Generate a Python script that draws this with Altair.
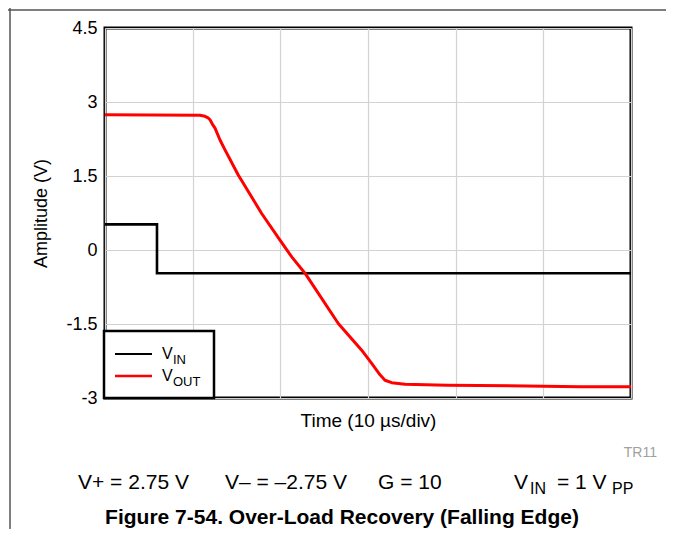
import altair as alt
import pandas as pd

# ---- data ----
vin_t = [0, 5.93, 5.93, 60]
vin_v = [0.52, 0.52, -0.47, -0.47]

vout_t = [0, 10.84, 11.41, 11.75, 11.98, 12.32, 12.55, 13.12, 13.69, 15.2, 17.87, 19.96,
          21.3, 22.81, 26.61, 29.28, 30.42, 31.37, 31.94, 32.7, 34.22, 39.0, 54.2, 60]
vout_v = [2.74, 2.73, 2.71, 2.68, 2.64, 2.53, 2.47, 2.23, 2.03, 1.52, 0.74, 0.20,
          -0.14, -0.47, -1.49, -2.03, -2.30, -2.53, -2.64, -2.69, -2.72, -2.74, -2.77, -2.77]

y_ticks = [-3, -1.5, 0, 1.5, 3, 4.5]
x_ticks = [0, 10, 20, 30, 40, 50, 60]
series_names = ["VIN", "VOUT"]
series_colors = ["black", "red"]

W, H = 526, 370
FONT = "Liberation Sans"

df = pd.DataFrame({
    "t": vin_t + vout_t,
    "v": vin_v + vout_v,
    "s": ["VIN"] * len(vin_t) + ["VOUT"] * len(vout_t),
    "o": list(range(len(vin_t))) + list(range(len(vout_t))),
})

x_enc = alt.X("t:Q", scale=alt.Scale(domain=[0, 60], nice=False),
              axis=alt.Axis(values=x_ticks, labels=False, ticks=False, domain=False,
                            title="Time (10 µs/div)", titleFontSize=19, titleFontWeight="normal",
                            titlePadding=13, titleFont=FONT, titleColor="black",
                            gridColor="#d2d2d2", gridWidth=1.2))
y_enc = alt.Y("v:Q", scale=alt.Scale(domain=[-3, 4.5], nice=False, zero=False),
              axis=alt.Axis(values=y_ticks, labelExpr="'' + datum.value", ticks=False,
                            domain=False, labelFontSize=18, labelFont=FONT, labelColor="black",
                            labelPadding=8, title="Amplitude (V)", titleFontSize=18,
                            titleFontWeight="normal", titleFont=FONT, titleColor="black",
                            titlePadding=15, gridColor="#d2d2d2", gridWidth=1.2))

base = alt.Chart(df)
color = alt.Color("s:N", scale=alt.Scale(domain=series_names, range=series_colors), legend=None)

line_in = base.transform_filter(alt.datum.s == "VIN").mark_line(strokeWidth=2.6).encode(
    x=x_enc, y=y_enc, order="o:Q", color=color)
line_out = base.transform_filter(alt.datum.s == "VOUT").mark_line(
    strokeWidth=3, strokeJoin="round").encode(x=x_enc, y=y_enc, order="o:Q", color=color)

one = pd.DataFrame({"a": [0]})
def deco():
    return alt.Chart(one)

# legend box
leg_box = deco().mark_rect(fill="white", stroke="black", strokeWidth=2.5).encode(
    x=alt.value(-1), x2=alt.value(109), y=alt.value(303), y2=alt.value(370))
leg_in = deco().mark_rule(color=series_colors[0], strokeWidth=2).encode(
    x=alt.value(10), x2=alt.value(47), y=alt.value(326))
leg_out = deco().mark_rule(color=series_colors[1], strokeWidth=2.5).encode(
    x=alt.value(10), x2=alt.value(47), y=alt.value(348))

def txt(s, x, y, size=16, align="left", weight="normal", color="black", baseline="alphabetic"):
    return deco().mark_text(text=s, fontSize=size, font=FONT, align=align, fontWeight=weight,
                            color=color, baseline=baseline).encode(x=alt.value(x), y=alt.value(y))

legend_txt = [
    txt("V", 57, 331, 16), txt("IN", 68, 336, 13),
    txt("V", 57, 353, 16), txt("OUT", 68, 358, 13),
]

notes = [
    txt("TR11", 552, 429, 14, align="right", color="#a0a0a0"),
    txt("V+ = 2.75 V", -27, 461, 21),
    txt("V– = –2.75 V", 120, 461, 21),
    txt("G = 10", 273, 461, 21),
    txt("V", 409, 461, 21), txt("IN", 425, 466, 16),
    txt("= 1 V", 452, 461, 21), txt("PP", 507, 466, 16),
    txt("Figure 7-54. Over-Load Recovery (Falling Edge)", 237, 496, 21, align="center", weight="bold"),
]

frame_h = deco().mark_rule(color="#555555", strokeWidth=1.5).encode(
    x=alt.value(-105), x2=alt.value(570), y=alt.value(-18))
frame_v = deco().mark_rule(color="#555555", strokeWidth=1.5).encode(
    x=alt.value(-95), y=alt.value(-28), y2=alt.value(520))

chart = alt.layer(
    line_in, line_out, leg_box, leg_in, leg_out, *legend_txt, *notes, frame_h, frame_v
).properties(
    width=W, height=H,
    padding={"left": 97, "top": 20, "right": 35, "bottom": 131},
    autosize=alt.AutoSizeParams(type="none"),
    background="white",
).configure_view(
    stroke="black", strokeWidth=3
)

chart.save("out.html", embed_options={"renderer": "svg", "actions": False})
